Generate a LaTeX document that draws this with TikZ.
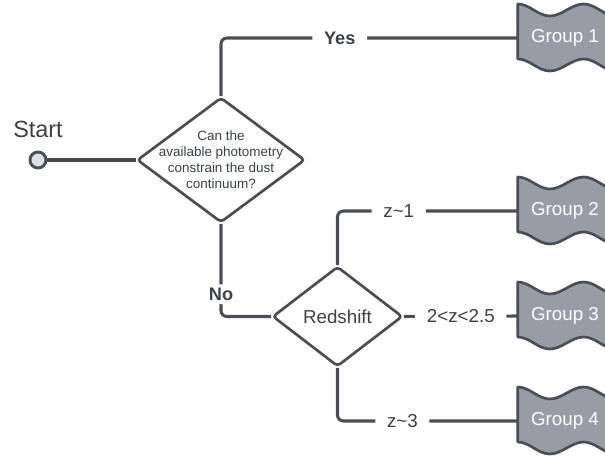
\documentclass[tikz,border=0pt]{standalone}
\usepackage{fontspec}
\setmainfont{Liberation Sans}
\usepackage{xcolor}
\usepackage{tikz}
\usetikzlibrary{positioning,shapes.geometric,backgrounds}

\definecolor{lineclr}{HTML}{4A4F57}
\definecolor{groupclr}{HTML}{989CA6}
\definecolor{startclr}{HTML}{DEE0E5}
\definecolor{textclr}{HTML}{3C4048}

% wavy group tape, drawn from the west anchor of a group node
\newcommand{\wavetape}[1]{%
  \path[tapefill, shift={(#1.west)}]
    (0,-34) cos (16,-28) sin (32,-22) cos (49,-28) sin (66,-34) cos (82,-28) sin (98,-22)
    -- (98,33) cos (82,27) sin (66,21) cos (49,27) sin (32,33) cos (16,27) sin (0,21) -- cycle;}

\begin{document}
\begin{tikzpicture}[
  x=0.03cm, y=-0.03cm,
  decision/.style={diamond, draw=lineclr, fill=white, line width=2.3pt, rounded corners=3pt, inner sep=0pt},
  qtext/.style={font=\fontsize{11.5}{13.7}\selectfont, text=textclr, align=center},
  groupbox/.style={minimum width=2.82cm, minimum height=1.6cm, inner sep=0pt, font=\fontsize{16}{19}\selectfont, text=white},
  tapefill/.style={fill=groupclr, draw=lineclr, line width=2.3pt, line join=round},
  startdot/.style={circle, draw=lineclr, fill=startclr, line width=2.5pt, minimum size=0.48cm, inner sep=0pt},
  conn/.style={draw=lineclr, line width=2.6pt, rounded corners=5pt},
  lbl/.style={fill=white, text=textclr, inner xsep=10pt, inner ysep=2pt, font=\fontsize{16}{19}\selectfont},
  ans/.style={lbl, inner ysep=3pt, font=\bfseries\fontsize{15.5}{18}\selectfont}
]
\useasboundingbox (0,0) rectangle (605,459);

% Start
\node[startdot] (start) at (38,160) {};
\node[text=textclr, font=\fontsize{20}{24}\selectfont] (startlbl) at (38,129) {Start};

% Decisions
\node[decision, minimum width=5.04cm, minimum height=3.75cm,
  label={[qtext]center:Can the\\available photometry\\constrain the dust\\continuum?}] (q1) at (221,160) {};
\node[decision, minimum width=3.9cm, minimum height=3cm, text=textclr,
  font=\fontsize{16}{19}\selectfont] (rs) at (337.5,316.5) {Redshift};

% Groups
\node[groupbox] (g1) at (565,38) {Group 1};
\node[groupbox] (g2) at (565,211) {Group 2};
\node[groupbox] (g3) at (565,316) {Group 3};
\node[groupbox] (g4) at (565,421) {Group 4};

\begin{scope}[on background layer]
  \clip (0,0) rectangle (605,459);
  \foreach \g in {g1,g2,g3,g4} {\wavetape{\g}}
\end{scope}

% Connectors
\draw[conn] (start) -- (q1);
\draw[conn] (q1.north) |- node[ans, pos=0.7] {Yes} (g1.west);
\draw[conn] (q1.south) |- node[ans, pos=0.38] {No} (rs.west);
\draw[conn] (rs.north) |- node[lbl, pos=0.67] {z\textasciitilde1} (g2.west);
\draw[conn] (rs.east) -- node[lbl] {2<z<2.5} (g3.west);
\draw[conn] (rs.south) |- node[lbl, pos=0.68] {z\textasciitilde3} (g4.west);

\end{tikzpicture}
\end{document}
